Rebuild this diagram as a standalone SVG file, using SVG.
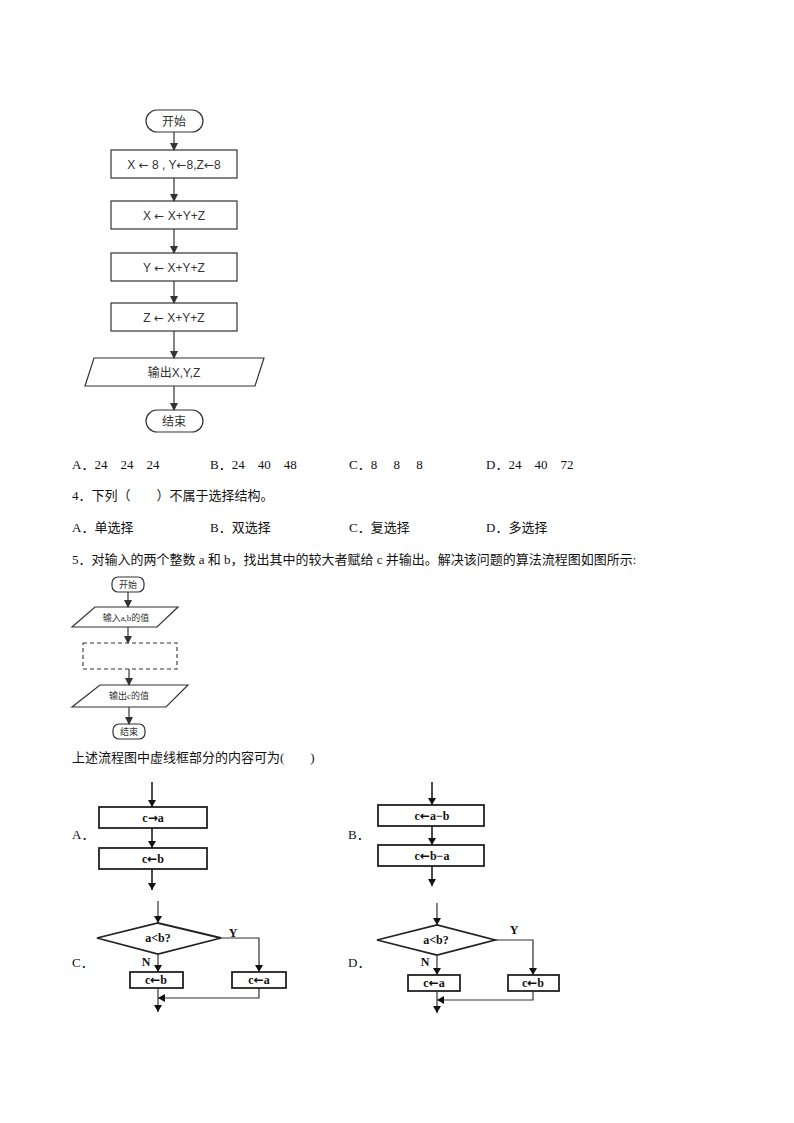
<svg xmlns="http://www.w3.org/2000/svg" width="794" height="1123" viewBox="0 0 794 1123">
<style>
.s{fill:none;stroke:#333;stroke-width:1.2}
.b{fill:none;stroke:#222;stroke-width:1.8}
.t{font-family:"Liberation Sans","Noto Sans CJK SC",sans-serif;font-size:12px;fill:#333;text-anchor:middle}
.q{font-family:"Liberation Serif","Noto Sans CJK SC",serif;font-size:13px;fill:#111}
.bt{font-family:"Liberation Serif","Noto Sans CJK SC",serif;font-size:12px;font-weight:bold;fill:#111;text-anchor:middle}
.ar{font-family:"DejaVu Sans",sans-serif}
.l{stroke:#333;stroke-width:1.2;fill:none}
.l2{stroke:#111;stroke-width:1.5;fill:none}
</style>
<defs>
<marker id="a" markerWidth="8" markerHeight="8" refX="7" refY="4" orient="auto" markerUnits="userSpaceOnUse"><path d="M0,0 L8,4 L0,8 z" fill="#333"/></marker>
<marker id="a2" markerWidth="7" markerHeight="8" refX="7" refY="4" orient="auto" markerUnits="userSpaceOnUse"><path d="M0,0 L7,4 L0,8 z" fill="#111"/></marker>
</defs>
<rect width="794" height="1123" fill="#fff"/>
<g id="n-start"><rect class="s" x="146" y="110" width="57" height="22" rx="11"/><text class="t" x="174" y="126">开始</text></g>
<g id="n-init"><rect class="s" x="111" y="150" width="126" height="28"/><text class="t" x="174" y="169">X <tspan class="ar">←</tspan> 8 , Y<tspan class="ar">←</tspan>8,Z<tspan class="ar">←</tspan>8</text></g>
<g id="n-x"><rect class="s" x="111" y="201" width="126" height="28"/><text class="t" x="174" y="220">X <tspan class="ar">←</tspan> X+Y+Z</text></g>
<g id="n-y"><rect class="s" x="111" y="253" width="126" height="28"/><text class="t" x="174" y="272">Y <tspan class="ar">←</tspan> X+Y+Z</text></g>
<g id="n-z"><rect class="s" x="111" y="303" width="126" height="28"/><text class="t" x="174" y="322">Z <tspan class="ar">←</tspan> X+Y+Z</text></g>
<g id="n-out"><polygon class="s" points="94,358 264,358 255,386 85,386"/><text class="t" x="174" y="377">输出X,Y,Z</text></g>
<g id="n-end"><rect class="s" x="146" y="410" width="57" height="22" rx="11"/><text class="t" x="174" y="426">结束</text></g>
<g id="edges1">
<line class="l" x1="174" y1="132" x2="174" y2="150" marker-end="url(#a)"/>
<line class="l" x1="174" y1="178" x2="174" y2="201" marker-end="url(#a)"/>
<line class="l" x1="174" y1="229" x2="174" y2="253" marker-end="url(#a)"/>
<line class="l" x1="174" y1="281" x2="174" y2="303" marker-end="url(#a)"/>
<line class="l" x1="174" y1="331" x2="174" y2="358" marker-end="url(#a)"/>
<line class="l" x1="174" y1="386" x2="174" y2="410" marker-end="url(#a)"/>
</g>
<text class="q" x="72" y="469" xml:space="preserve">A．24    24    24</text>
<text class="q" x="210" y="469" xml:space="preserve">B．24    40    48</text>
<text class="q" x="349" y="469" xml:space="preserve">C．8     8     8</text>
<text class="q" x="486" y="469" xml:space="preserve">D．24    40    72</text>
<text class="q" x="72" y="500">4．下列（　　）不属于选择结构。</text>
<text class="q" x="72" y="532">A．单选择</text>
<text class="q" x="210" y="532">B．双选择</text>
<text class="q" x="349" y="532">C．复选择</text>
<text class="q" x="486" y="532">D．多选择</text>
<text class="q" x="72" y="564">5．对输入的两个整数 a 和 b，找出其中的较大者赋给 c 并输出。解决该问题的算法流程图如图所示:</text>
<g id="m-start"><rect class="s" x="112" y="577" width="32" height="15" rx="6"/><text class="t" x="128" y="588" style="font-size:9px;font-family:'Liberation Serif','Noto Sans CJK SC',serif">开始</text></g>
<g id="m-in"><polygon class="s" points="95,607 178,607 157,627 72,627"/><text class="t" x="126" y="621" style="font-size:9px;font-family:'Liberation Serif','Noto Sans CJK SC',serif">输入a,b的值</text></g>
<g id="m-dash"><rect x="83" y="643" width="94" height="26" fill="none" stroke="#333" stroke-width="1.1" stroke-dasharray="4,3"/></g>
<g id="m-out"><polygon class="s" points="100,685 188,685 166,707 72,707"/><text class="t" x="129" y="699" style="font-size:9px;font-family:'Liberation Serif','Noto Sans CJK SC',serif">输出c的值</text></g>
<g id="m-end"><rect class="s" x="113" y="724" width="32" height="15" rx="6"/><text class="t" x="129" y="735" style="font-size:9px;font-family:'Liberation Serif','Noto Sans CJK SC',serif">结束</text></g>
<g id="edges2">
<line class="l" x1="128" y1="592" x2="128" y2="607" marker-end="url(#a)"/>
<line class="l" x1="128" y1="627" x2="128" y2="643" marker-end="url(#a)"/>
<line class="l" x1="129" y1="669" x2="129" y2="685" marker-end="url(#a)"/>
<line class="l" x1="129" y1="707" x2="129" y2="724" marker-end="url(#a)"/>
</g>
<text class="q" x="72" y="762">上述流程图中虚线框部分的内容可为(　　)</text>
<text class="q" x="72" y="839">A．</text>
<g id="a1"><rect class="b" x="99" y="807" width="108" height="21"/><text class="bt" x="153" y="822">c<tspan class="ar">→</tspan>a</text></g>
<g id="a2n"><rect class="b" x="99" y="848" width="108" height="21"/><text class="bt" x="153" y="863">c<tspan class="ar">←</tspan>b</text></g>
<text class="q" x="348" y="839">B．</text>
<g id="b1"><rect class="b" x="378" y="805" width="106" height="21"/><text class="bt" x="432" y="820">c<tspan class="ar">←</tspan>a−b</text></g>
<g id="b2"><rect class="b" x="378" y="845" width="106" height="21"/><text class="bt" x="432" y="860">c<tspan class="ar">←</tspan>b−a</text></g>
<text class="q" x="72" y="967">C．</text>
<g id="c-d"><polygon class="b" points="97,938 158,923 221,938 158,954"/><text class="bt" x="158" y="942">a&lt;b?</text></g>
<g id="c-l"><rect class="b" x="130" y="972" width="53" height="16"/><text class="bt" x="156" y="984">c<tspan class="ar">←</tspan>b</text></g>
<g id="c-r"><rect class="b" x="232" y="972" width="54" height="16"/><text class="bt" x="259" y="984">c<tspan class="ar">←</tspan>a</text></g>
<text class="q" x="348" y="967">D．</text>
<g id="d-d"><polygon class="b" points="377,940 437,925 495,940 437,955"/><text class="bt" x="436" y="944">a&lt;b?</text></g>
<g id="d-l"><rect class="b" x="408" y="975" width="52" height="16"/><text class="bt" x="434" y="987">c<tspan class="ar">←</tspan>a</text></g>
<g id="d-r"><rect class="b" x="508" y="975" width="51" height="16"/><text class="bt" x="533" y="987">c<tspan class="ar">←</tspan>b</text></g>
<g id="edges3">
<line class="l2" x1="152" y1="782" x2="152" y2="807" marker-end="url(#a2)"/>
<line class="l2" x1="152" y1="828" x2="152" y2="848" marker-end="url(#a2)"/>
<line class="l2" x1="152" y1="869" x2="152" y2="890" marker-end="url(#a2)"/>
<line class="l2" x1="432" y1="782" x2="432" y2="805" marker-end="url(#a2)"/>
<line class="l2" x1="432" y1="826" x2="432" y2="845" marker-end="url(#a2)"/>
<line class="l2" x1="432" y1="866" x2="432" y2="886" marker-end="url(#a2)"/>
<line class="l" x1="158" y1="901" x2="158" y2="923" marker-end="url(#a2)"/>
<line class="l" x1="158" y1="954" x2="158" y2="972" marker-end="url(#a2)"/>
<polyline class="l" points="221,938 259,938 259,972" marker-end="url(#a2)"/>
<polyline class="l" points="259,988 259,998 158,998" marker-end="url(#a2)"/>
<line class="l" x1="158" y1="988" x2="158" y2="1012" marker-end="url(#a2)"/>
<line class="l" x1="437" y1="903" x2="437" y2="925" marker-end="url(#a2)"/>
<line class="l" x1="437" y1="955" x2="437" y2="975" marker-end="url(#a2)"/>
<polyline class="l" points="495,940 533,940 533,975" marker-end="url(#a2)"/>
<polyline class="l" points="533,991 533,1000 437,1000" marker-end="url(#a2)"/>
<line class="l" x1="437" y1="991" x2="437" y2="1013" marker-end="url(#a2)"/>
</g>
<text class="bt" x="233" y="937">Y</text>
<text class="bt" x="146" y="966">N</text>
<text class="bt" x="514" y="934">Y</text>
<text class="bt" x="425" y="966">N</text>
</svg>
